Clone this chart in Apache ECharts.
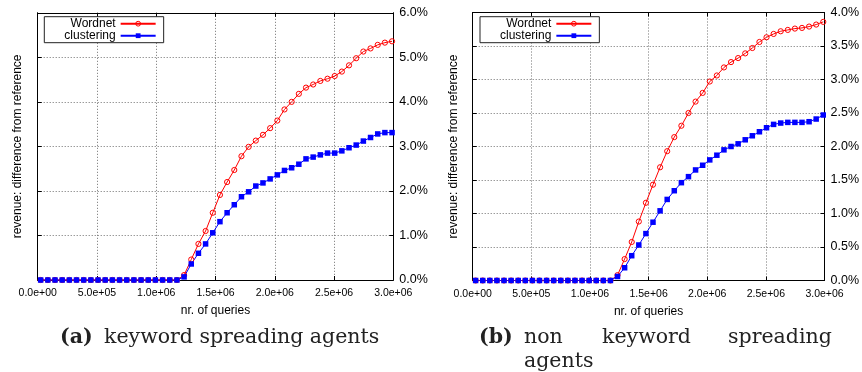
<!DOCTYPE html>
<html>
<head>
<meta charset="utf-8">
<script src="https://cdn.jsdelivr.net/npm/echarts@6/dist/echarts.min.js"></script>
<style>
html,body{margin:0;padding:0;background:#fff;}
#c{width:862px;height:372px;}
</style>
</head>
<body>
<div id="c"></div>
<script>
// number of queries at which each sample was taken
const queries = [25000, 85500, 146000, 206500, 267000, 327500, 388000, 448500, 509000, 569500,
  630000, 690500, 751000, 811500, 872000, 932500, 993000, 1053500, 1114000, 1174500,
  1235000, 1295500, 1356000, 1416500, 1477000, 1537500, 1598000, 1658500, 1719000, 1779500,
  1840000, 1900500, 1961000, 2021500, 2082000, 2142500, 2203000, 2263500, 2324000, 2384500,
  2445000, 2505500, 2566000, 2626500, 2687000, 2747500, 2808000, 2868500, 2929000, 2989500];

// (a) keyword spreading agents — revenue difference in %
const wordnetA = [0,0,0,0,0,0,0,0,0,0, 0,0,0,0,0,0,0,0,0,0,
  0.11, 0.46, 0.81, 1.10, 1.51, 1.91, 2.20, 2.47, 2.78, 2.99,
  3.13, 3.26, 3.41, 3.58, 3.83, 4.00, 4.18, 4.32, 4.39, 4.47,
  4.52, 4.58, 4.68, 4.82, 4.98, 5.13, 5.20, 5.28, 5.33, 5.36];
const clusteringA = [0,0,0,0,0,0,0,0,0,0, 0,0,0,0,0,0,0,0,0,0,
  0.07, 0.36, 0.60, 0.81, 1.06, 1.31, 1.51, 1.69, 1.87, 1.98,
  2.11, 2.18, 2.27, 2.36, 2.46, 2.52, 2.60, 2.72, 2.76, 2.81,
  2.85, 2.85, 2.90, 2.97, 3.03, 3.12, 3.20, 3.28, 3.31, 3.31];

// (b) non keyword spreading agents
const wordnetB = [0,0,0,0,0,0,0,0,0,0, 0,0,0,0,0,0,0,0,0,0,
  0.08, 0.32, 0.575, 0.88, 1.16, 1.43, 1.69, 1.93, 2.14, 2.31,
  2.50, 2.67, 2.80, 2.97, 3.06, 3.18, 3.26, 3.32, 3.39, 3.47,
  3.56, 3.63, 3.68, 3.72, 3.74, 3.76, 3.77, 3.79, 3.82, 3.86];
const clusteringB = [0,0,0,0,0,0,0,0,0,0, 0,0,0,0,0,0,0,0,0,0,
  0.06, 0.19, 0.37, 0.53, 0.70, 0.87, 1.04, 1.21, 1.34, 1.46,
  1.55, 1.65, 1.72, 1.80, 1.87, 1.95, 2.00, 2.04, 2.10, 2.16,
  2.22, 2.28, 2.33, 2.35, 2.36, 2.36, 2.36, 2.37, 2.41, 2.47];

const xTickLabels = ['0.0e+00', '5.0e+05', '1.0e+06', '1.5e+06', '2.0e+06', '2.5e+06', '3.0e+06'];
const seriesNames = ['Wordnet', 'clustering'];
const xName = 'nr. of queries';
const yName = 'revenue: difference from reference';

const SANS = "'Liberation Sans', Arial, Helvetica, sans-serif";
const NARROW = "'Liberation Sans Narrow', 'Liberation Sans', Arial, sans-serif";
const SERIF = "'DejaVu Serif', 'Liberation Serif', serif";
const RED = '#ff0000', BLUE = '#0000ff';
const gridLine = { show: true, lineStyle: { color: '#6e6e6e', width: 1, type: [1, 2] } };
const blackLine = { show: true, onZero: false, lineStyle: { color: '#000', width: 1 } };
const inTick = { show: true, inside: true, length: 4, lineStyle: { color: '#000' } };

const grids = [
  { left: 37.7, top: 12.8, width: 355.6, height: 267.2 },
  { left: 472.7, top: 12.5, width: 356, height: 268 }
];
const yMax = [6, 4], yStep = [1, 0.5];

const xAxes = [], yAxes = [], series = [], legends = [];
[0, 1].forEach(g => {
  xAxes.push({
    type: 'value', gridIndex: g, min: 0, max: 3000000, interval: 500000, position: 'bottom',
    name: xName, nameLocation: 'middle', nameGap: 25,
    nameTextStyle: { fontFamily: SANS, fontSize: 12, color: '#000' },
    axisLine: blackLine, axisTick: inTick,
    axisLabel: { fontFamily: NARROW, fontSize: 10.5, color: '#000', margin: 8, showMinLabel: true, showMaxLabel: true,
      formatter: v => xTickLabels[Math.round(v / 500000)] },
    splitLine: gridLine
  });
  xAxes.push({
    type: 'value', gridIndex: g, min: 0, max: 3000000, interval: 500000, position: 'top',
    axisLine: blackLine, axisTick: inTick,
    axisLabel: { show: false }, splitLine: { show: false }
  });
  yAxes.push({
    type: 'value', gridIndex: g, min: 0, max: yMax[g], interval: yStep[g], position: 'right',
    axisLine: blackLine, axisTick: inTick,
    axisLabel: { fontFamily: SANS, fontSize: 12.5, color: '#000', margin: 6, showMinLabel: true, showMaxLabel: true,
      formatter: v => v.toFixed(1) + '%' },
    splitLine: gridLine
  });
  yAxes.push({
    type: 'value', gridIndex: g, min: 0, max: yMax[g], interval: yStep[g], position: 'left',
    name: yName, nameLocation: 'middle', nameGap: g === 0 ? 14 : 13,
    nameTextStyle: { fontFamily: SANS, fontSize: 12, color: '#000' },
    axisLine: blackLine, axisTick: inTick,
    axisLabel: { show: false }, splitLine: { show: false }
  });
  const w = g === 0 ? wordnetA : wordnetB;
  const c = g === 0 ? clusteringA : clusteringB;
  series.push({
    name: seriesNames[0], type: 'line', xAxisIndex: g * 2, yAxisIndex: g * 2,
    data: queries.map((q, i) => [q, w[i]]),
    symbol: 'circle', symbolSize: 5.2, clip: false, animation: false,
    lineStyle: { color: RED, width: 1 },
    itemStyle: { color: 'rgba(255,0,0,0)', borderColor: RED, borderWidth: 1 },
    emphasis: { disabled: true }
  });
  series.push({
    name: seriesNames[1], type: 'line', xAxisIndex: g * 2, yAxisIndex: g * 2,
    data: queries.map((q, i) => [q, c[i]]),
    symbol: 'rect', symbolSize: 5.5, clip: false, animation: false,
    lineStyle: { color: BLUE, width: 1 },
    itemStyle: { color: BLUE },
    emphasis: { disabled: true }
  });
  legends.push({
    data: [
      { name: seriesNames[0], itemStyle: { color: 'rgba(255,255,255,0)', borderColor: RED, borderWidth: 1 } },
      { name: seriesNames[1] }
    ],
    orient: 'vertical', align: 'right',
    left: g === 0 ? 44.3 : 480, top: 16.7,
    itemWidth: 35, itemHeight: 6, itemGap: 0,
    padding: [1, 7, 1, 20], borderColor: '#222', borderWidth: 1, backgroundColor: '#fff',
    selectedMode: false,
    textStyle: { fontFamily: SANS, fontSize: 12, color: '#000', lineHeight: 11.4 }
  });
});

const capStyle = (text, bold) => ({
  text: text, fill: '#222',
  font: (bold ? 'bold ' : '') + '20.5px ' + SERIF,
  verticalAlign: 'middle'
});

const chart = echarts.init(document.getElementById('c'), null, { renderer: 'canvas' });
chart.setOption({
  animation: false,
  backgroundColor: '#fff',
  grid: grids,
  xAxis: xAxes,
  yAxis: yAxes,
  legend: legends,
  series: series,
  graphic: [
    { type: 'text', left: 60, top: 327, style: capStyle('(a)', true) },
    { type: 'text', left: 104, top: 327, style: capStyle('keyword spreading agents', false) },
    { type: 'text', left: 479, top: 327, style: capStyle('(b)', true) },
    { type: 'text', left: 524, top: 327, style: capStyle('non', false) },
    { type: 'text', left: 602, top: 327, style: capStyle('keyword', false) },
    { type: 'text', left: 728, top: 327, style: capStyle('spreading', false) },
    { type: 'text', left: 524, top: 351, style: capStyle('agents', false) }
  ]
});
</script>
</body>
</html>
